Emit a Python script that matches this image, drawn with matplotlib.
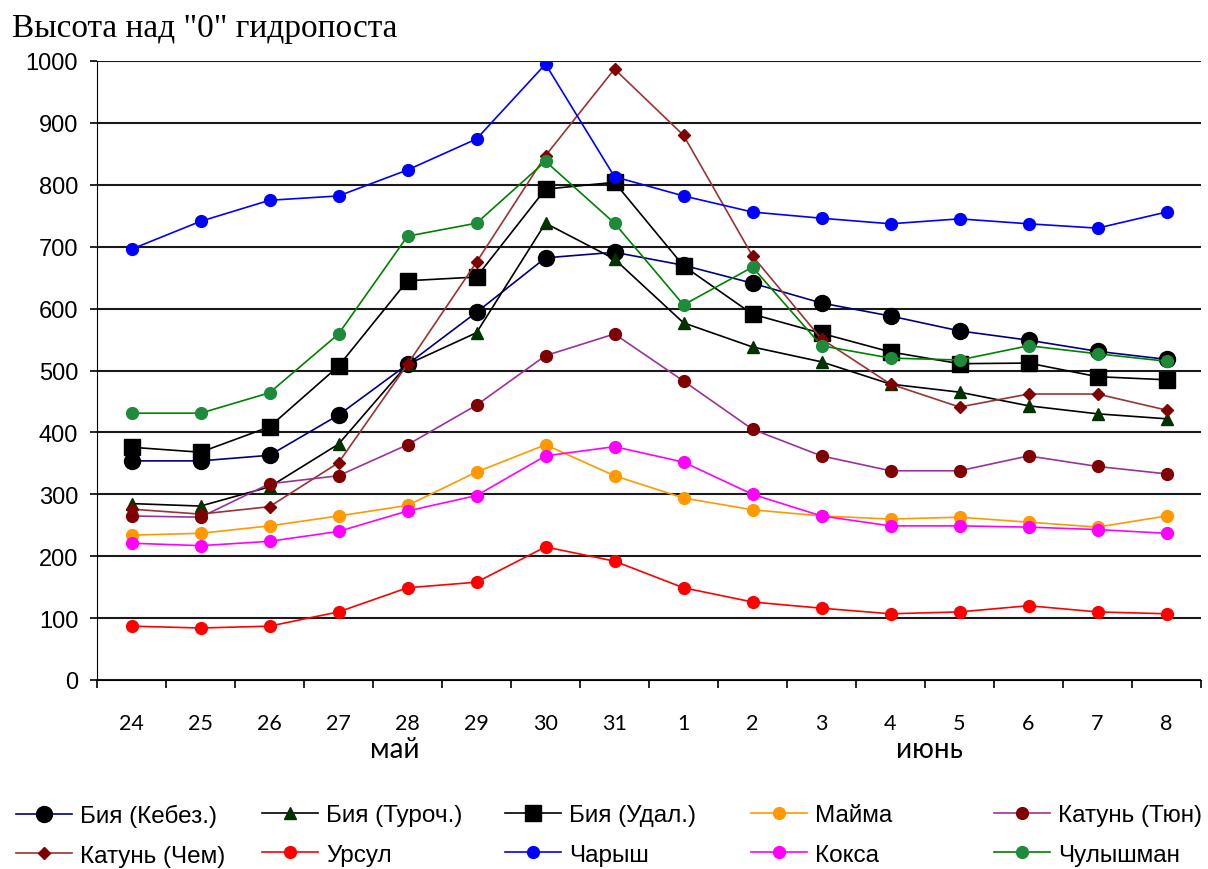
import matplotlib
matplotlib.use("Agg")
import matplotlib.pyplot as plt

days = ["24", "25", "26", "27", "28", "29", "30", "31", "1", "2", "3", "4", "5", "6", "7", "8"]

biya_kebez = [354, 354, 363, 428, 510, 594, 682, 691, 670, 641, 609, 588, 564, 549, 531, 518]
biya_turoch = [285, 281, 312, 381, 510, 561, 738, 680, 577, 538, 514, 478, 465, 443, 430, 422]
biya_udal = [376, 368, 409, 507, 645, 651, 793, 804, 669, 591, 560, 530, 511, 512, 490, 485]
maima = [234, 237, 249, 265, 282, 336, 380, 330, 294, 275, 265, 260, 263, 255, 247, 265]
katun_tyun = [265, 263, 317, 330, 380, 444, 524, 559, 483, 405, 362, 338, 338, 362, 345, 333]
katun_chem = [276, 268, 280, 351, 510, 675, 847, 987, 880, 685, 551, 478, 441, 462, 462, 436]
ursul = [87, 84, 87, 110, 149, 158, 215, 192, 149, 126, 116, 107, 110, 120, 110, 107]
charysh = [696, 741, 775, 782, 824, 874, 995, 813, 782, 756, 746, 737, 745, 737, 730, 756]
koksa = [221, 217, 224, 240, 273, 298, 362, 377, 352, 300, 265, 249, 249, 247, 243, 237]
chulyshman = [431, 431, 464, 559, 717, 738, 838, 738, 606, 667, 540, 520, 517, 540, 527, 515]

# label, data, line colour, marker, marker colour, marker size
series = [
    ("Бия (Кебез.)", biya_kebez, "#000080", "o", "black", 11.5),
    ("Бия (Туроч.)", biya_turoch, "black", "^", "#003300", 8.5),
    ("Бия (Удал.)", biya_udal, "black", "s", "black", 11.5),
    ("Майма", maima, "#FF9900", "o", "#FF9900", 8.5),
    ("Катунь (Тюн)", katun_tyun, "#993399", "o", "#800000", 8.5),
    ("Катунь (Чем)", katun_chem, "#993333", "D", "#800000", 6.5),
    ("Урсул", ursul, "#FF0000", "o", "#FF0000", 8.5),
    ("Чарыш", charysh, "#0000FF", "o", "#0000FF", 8.5),
    ("Кокса", koksa, "#FF00FF", "o", "#FF00FF", 8.5),
    ("Чулышман", chulyshman, "#008000", "o", "#1E8B3A", 8.5),
]

plt.rcParams['font.family'] = ['Liberation Sans', 'DejaVu Sans']

fig = plt.figure(figsize=(12.08, 8.7), dpi=100)
ax = fig.add_axes([97 / 1208, 1 - 681 / 870, (1201 - 97) / 1208, (681 - 62) / 870])

x = list(range(len(days)))
handles = []
for label, vals, lc, mk, mc, ms in series:
    h, = ax.plot(x, vals, color=lc, lw=1.2, marker=mk, markersize=ms,
                 markerfacecolor=mc, markeredgecolor=mc, label=label, zorder=3)
    handles.append(h)

ax.set_xlim(-0.5, len(days) - 0.5)
ax.set_ylim(0, 1000)
ax.set_yticks(range(0, 1001, 100))
ax.yaxis.grid(True, color="#1a1a1a", lw=1.5)
ax.set_axisbelow(True)
for s in ["top", "right"]:
    ax.spines[s].set_visible(False)
ax.spines["bottom"].set_color("black")
ax.spines["left"].set_color("black")
ax.tick_params(axis="y", labelsize=17, length=5, width=1.2, pad=8.5)

ax.set_xticks(x)
ax.set_xticklabels(days, fontsize=15.5, family=["Lato", "DejaVu Sans"])
ax.tick_params(axis="x", which="major", length=0, pad=24)
ax.set_xticks([i - 0.5 for i in range(len(days) + 1)], minor=True)
ax.tick_params(axis="x", which="minor", length=6, width=1.2, color="black")

fig.text(395 / 1208, 1 - 750 / 870, "май", fontsize=20, family=["Lato", "DejaVu Sans"],
         ha="center", va="center")
fig.text(929 / 1208, 1 - 750 / 870, "июнь", fontsize=20, family=["Lato", "DejaVu Sans"],
         ha="center", va="center")
fig.text(12 / 1208, 1 - 37 / 870, 'Высота над "0" гидропоста', fontsize=24,
         family=["Liberation Serif", "DejaVu Serif"], ha="left", va="baseline")

col_x = [16, 262, 505, 751, 994]
for c in range(5):
    fig.legend([handles[c], handles[c + 5]], [series[c][0], series[c + 5][0]],
               loc="upper left", bbox_to_anchor=(col_x[c] / 1208, 1 - 805 / 870),
               frameon=False, fontsize=17.5, handlelength=2.3, handletextpad=0.33,
               labelspacing=0.72, borderaxespad=0, borderpad=0)

fig.savefig("out.png", dpi=100)
